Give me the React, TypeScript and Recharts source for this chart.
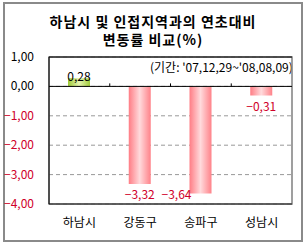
import React from "react";
import {
  BarChart,
  Bar,
  XAxis,
  YAxis,
  CartesianGrid,
  ReferenceLine,
  ReferenceArea,
  LabelList,
  Cell,
} from "recharts";

// 연초대비 변동률 (%)
const regions = ["하남시", "강동구", "송파구", "성남시"];
const changes = [0.28, -3.32, -3.64, -0.31];
const yTicks = [1, 0, -1, -2, -3, -4];

const data = regions.map((name, i) => ({ name, value: changes[i] }));

const FONT = "'Noto Sans CJK KR', 'Noto Sans', sans-serif";
const RED = "#d0002a";

const fmt = (v: number) => v.toFixed(2).replace(".", ",").replace("-", "−");

const YTick = (props: any) => {
  const { x, y, payload } = props;
  const v = payload.value as number;
  return (
    <text x={x - 4} y={y + 4} textAnchor="end" fontSize={12} fontFamily={FONT} fill={v < 0 ? RED : "#000"}>
      {fmt(v)}
    </text>
  );
};

const XTick = (props: any) => {
  const { x, y, payload } = props;
  return (
    <text x={x} y={y + 15} textAnchor="middle" fontSize={12} fontFamily={FONT} fill="#000">
      {payload.value}
    </text>
  );
};

const ValueLabel = (props: any) => {
  const { x, y, width, height, value } = props;
  const top = Math.min(y, y + height);
  const bottom = Math.max(y, y + height);
  if (value >= 0) {
    return (
      <text x={x + width / 2} y={top + 3} textAnchor="middle" fontSize={12} fontFamily={FONT} fill="#000">
        {fmt(value)}
      </text>
    );
  }
  // too close to the bottom border: put it to the left of the bar
  if (bottom > 190) {
    return (
      <text x={x + 2} y={bottom + 6} textAnchor="end" fontSize={12} fontFamily={FONT} fill={RED}>
        {fmt(value)}
      </text>
    );
  }
  return (
    <text x={x + width / 2} y={bottom + 15} textAnchor="middle" fontSize={12} fontFamily={FONT} fill={RED}>
      {fmt(value)}
    </text>
  );
};

// zero line with small tick marks at the category boundaries
const ZeroLine = (props: any) => {
  const { x1, y1, x2, y2 } = props;
  const n = regions.length;
  const marks = [];
  for (let i = 1; i < n; i++) {
    const mx = x1 + ((x2 - x1) * i) / n;
    marks.push(<line key={i} x1={mx} x2={mx} y1={y1} y2={y1 - 3} stroke="#000" />);
  }
  return (
    <g>
      <line x1={x1} y1={y1} x2={x2} y2={y2} stroke="#000" strokeWidth={1} />
      {marks}
    </g>
  );
};

const titleStyle: React.CSSProperties = {
  position: "absolute",
  left: 0,
  width: 306,
  textAlign: "center",
  fontFamily: FONT,
  fontWeight: "bold",
  fontSize: 14,
  lineHeight: "17px",
  letterSpacing: 1,
  color: "#000",
};

export default function App() {
  return (
    <div style={{ position: "absolute", left: 0, top: 0, width: 306, height: 245, background: "#fff" }}>
      <div
        style={{
          position: "absolute",
          left: 3,
          top: 2,
          width: 300,
          height: 240,
          boxSizing: "border-box",
          border: "2px solid #8a8a8a",
        }}
      />
      <div style={{ ...titleStyle, top: 13 }}>하남시 및 인접지역과의 연초대비</div>
      <div style={{ ...titleStyle, top: 31 }}>변동률 비교(%)</div>
      <div
        style={{
          position: "absolute",
          left: 150,
          top: 58,
          fontFamily: FONT,
          fontSize: 12,
          color: "#000",
          whiteSpace: "nowrap",
        }}
      >
        (기간: '07,12,29~'08,08,09)
      </div>
      <div style={{ position: "absolute", left: 0, top: 0 }}>
        <BarChart width={306} height={245} data={data} margin={{ top: 57, right: 14, left: 0, bottom: 0 }}>
          <defs>
            <linearGradient id="pinkBar" x1="0" y1="0" x2="1" y2="0">
              <stop offset="0%" stopColor="#ff7d85" />
              <stop offset="50%" stopColor="#ffdadc" />
              <stop offset="100%" stopColor="#ff8289" />
            </linearGradient>
            <linearGradient id="greenBar" x1="0" y1="0" x2="1" y2="0">
              <stop offset="0%" stopColor="#9cc835" />
              <stop offset="50%" stopColor="#e6f4b0" />
              <stop offset="100%" stopColor="#a2cc3c" />
            </linearGradient>
          </defs>
          <ReferenceArea y1={-4} y2={1} fill="none" stroke="#808080" strokeWidth={1.5} />
          <CartesianGrid horizontal vertical={false} stroke="#999" strokeDasharray="4 3" />
          <XAxis
            dataKey="name"
            height={41}
            tickLine={false}
            axisLine={{ stroke: "#222" }}
            tick={<XTick />}
            interval={0}
          />
          <YAxis
            width={49}
            domain={[-4, 1]}
            ticks={yTicks}
            tickLine={false}
            axisLine={{ stroke: "#000" }}
            tick={<YTick />}
            tickMargin={5}
            tickSize={6}
            interval={0}
          />
          <ReferenceLine y={1} stroke="#000" />
          <Bar dataKey="value" barSize={22} isAnimationActive={false}>
            {data.map((d, i) => (
              <Cell key={i} fill={d.value >= 0 ? "url(#greenBar)" : "url(#pinkBar)"} />
            ))}
            <LabelList dataKey="value" content={<ValueLabel />} />
          </Bar>
          <ReferenceLine y={0} shape={<ZeroLine />} />
        </BarChart>
      </div>
    </div>
  );
}
